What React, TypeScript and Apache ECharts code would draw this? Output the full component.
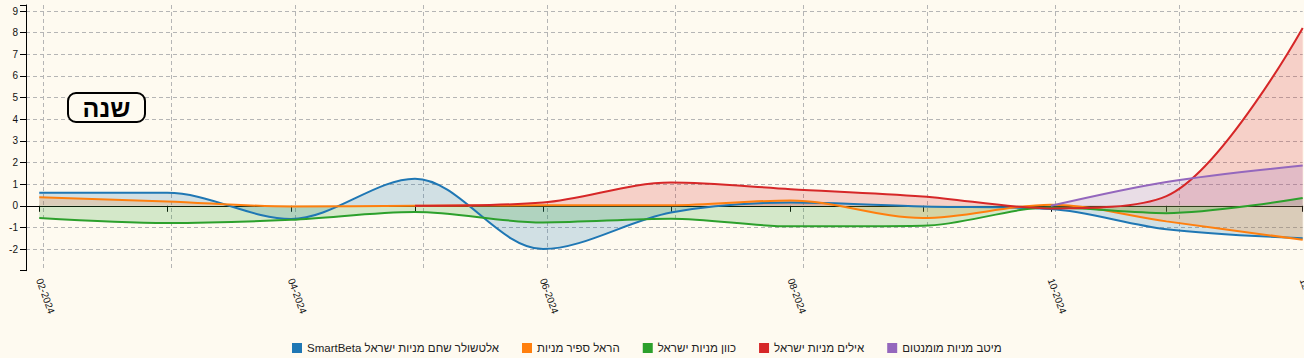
import React, { useEffect, useRef } from "react";
import * as echarts from "echarts";

// ---- data ----
const dates = [
  "2024-02-29", "2024-03-31", "2024-04-30", "2024-05-30", "2024-06-30", "2024-07-31",
  "2024-08-29", "2024-09-30", "2024-10-31", "2024-11-28", "2024-12-31",
];
const xTickLabels = [
  "02-2024", "03-2024", "04-2024", "05-2024", "06-2024", "07-2024",
  "08-2024", "09-2024", "10-2024", "11-2024", "12-2024",
];
const labeledDates = ["2024-02-29", "2024-04-30", "2024-06-30", "2024-08-29", "2024-10-31", "2024-12-31"];
const xMin = "2024-02-25T19:00:00";
const xMax = "2024-12-31T00:00:00";

const seriesNames = [
  "SmartBeta אלטשולר שחם מניות ישראל",
  "הראל ספיר מניות",
  "כוון מניות ישראל",
  "אילים מניות ישראל",
  "מיטב מניות מומנטום",
];
const seriesColors = ["#1f77b4", "#ff7f0e", "#2ca02c", "#d62728", "#9467bd"];

const altshuler = [0.6, 0.6, -0.61, 1.25, -2.0, -0.31, 0.15, -0.03, -0.15, -1.08, -1.5];
const harel = [0.4, 0.2, -0.03, 0.0, 0.02, 0.02, 0.25, -0.57, 0.05, -0.72, -1.57];
const kavan = [-0.57, -0.8, -0.65, -0.29, -0.77, -0.6, -0.95, -0.92, -0.08, -0.34, 0.36];
const ayalim = [null, null, null, 0.0, 0.15, 1.08, 0.77, 0.43, -0.12, 0.45, 8.22];
const meitav = [null, null, null, null, null, null, null, null, 0.0, 1.1, 1.86];

const yTickValues = [-3, -2, -1, 0, 1, 2, 3, 4, 5, 6, 7, 8, 9];
const yLabelValues = [-2, -1, 0, 1, 2, 3, 4, 5, 6, 7, 8, 9];
const yMin = -3;
const yMax = 9.28;

const periodLabel = "שנה";

const allValues = [altshuler, harel, kavan, ayalim, meitav];

function toTime(s: string): number {
  const [datePart, timePart] = s.split("T");
  const [y, m, d] = datePart.split("-").map(Number);
  let hh = 0;
  let mm = 0;
  if (timePart) {
    const parts = timePart.split(":").map(Number);
    hh = parts[0];
    mm = parts[1];
  }
  return new Date(y, m - 1, d, hh, mm).getTime();
}

const BG = "#fefaf0";
const FONT = "'Liberation Sans', Arial, sans-serif";

export default function App() {
  const ref = useRef<HTMLDivElement>(null);

  useEffect(() => {
    if (!ref.current) return;
    const chart = echarts.init(ref.current, undefined, { renderer: "svg" });
    const dateTimes = dates.map(toTime);
    const gridLine = { color: "#b5b5b5", width: 1, type: [4, 3] as number[] };

    const option: any = {
      animation: false,
      backgroundColor: BG,
      textStyle: { fontFamily: FONT },
      grid: {
        left: 26,
        right: 1.3,
        top: 5,
        bottom: 87.3,
        containLabel: false,
        outerBoundsMode: "none",
      },
      legend: {
        data: seriesNames,
        left: 287,
        top: 337,
        icon: "rect",
        itemWidth: 10,
        itemHeight: 10,
        itemGap: 23,
        textStyle: { fontSize: 11.5, color: "#222", fontFamily: FONT },
      },
      xAxis: [
        {
          type: "value",
          min: toTime(xMin),
          max: toTime(xMax),
          axisLine: { show: true, lineStyle: { color: "#000", width: 1 } },
          axisTick: { show: true, length: 6, customValues: dateTimes, lineStyle: { color: "#000" } },
          axisLabel: {
            show: true,
            customValues: labeledDates.map(toTime),
            rotate: -70,
            fontSize: 10,
            color: "#111",
            margin: 8,
            hideOverlap: false,
            formatter: (v: number) => {
              const idx = dateTimes.indexOf(v);
              return idx >= 0 ? xTickLabels[idx] : "";
            },
          },
          splitLine: { show: false },
        },
        {
          type: "time",
          min: toTime(xMin),
          max: toTime(xMax),
          splitNumber: 10,
          position: "bottom",
          axisLine: { show: false },
          axisTick: { show: false },
          axisLabel: { show: false },
          splitLine: { show: true, showMinLine: false, showMaxLine: false, lineStyle: gridLine },
        },
      ],
      yAxis: {
        type: "value",
        min: yMin,
        max: yMax,
        interval: 1,
        axisLine: { show: true, lineStyle: { color: "#000", width: 1 } },
        axisTick: { show: true, length: 6, customValues: [...yTickValues, yMax], lineStyle: { color: "#000" } },
        axisLabel: { customValues: yLabelValues, fontSize: 10, color: "#111", margin: 8 },
        splitLine: { show: true, showMinLine: false, showMaxLine: false, lineStyle: gridLine },
      },
      graphic: [
        {
          type: "rect",
          shape: { x: 68, y: 93, width: 77, height: 29, r: 8 },
          style: { fill: BG, stroke: "#000", lineWidth: 2 },
          z: 100,
        },
        {
          type: "text",
          x: 106.5,
          y: 108,
          style: {
            text: periodLabel,
            fontSize: 25,
            fontWeight: "bold",
            fill: "#000",
            align: "center",
            verticalAlign: "middle",
            fontFamily: FONT,
          },
          z: 101,
        },
      ],
      series: seriesNames.map((name, si) => ({
        name,
        type: "line",
        xAxisIndex: 0,
        yAxisIndex: 0,
        smooth: 0.33,
        symbol: "none",
        color: seriesColors[si],
        lineStyle: { width: 2, color: seriesColors[si] },
        areaStyle: { color: seriesColors[si], opacity: 0.2 },
        data: dateTimes
          .map((t, i) => [t, allValues[si][i]])
          .filter((p) => p[1] !== null),
      })),
    };

    chart.setOption(option);
    return () => {
      chart.dispose();
    };
  }, []);

  return (
    <div
      ref={ref}
      style={{ position: "fixed", left: 0, top: 0, width: 1304, height: 358 }}
    />
  );
}
